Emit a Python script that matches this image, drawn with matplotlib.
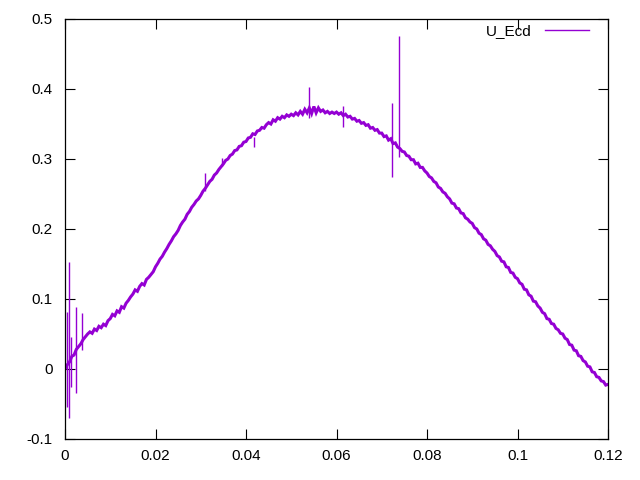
import numpy as np
import matplotlib
matplotlib.use("Agg")
import matplotlib.pyplot as plt
from matplotlib.lines import Line2D
from matplotlib.ticker import FuncFormatter

LINE_COLOR = "#9400d3"
FONT = "Liberation Sans"

# sampled signal, one value every 0.0005 from 0 to 0.12
x_start = 0.0
x_step = 0.0005
u_ecd = [
    0.000, 0.006, 0.010, 0.018, 0.020, 0.028, 0.032, 0.036, 0.042, 0.046,
    0.050, 0.053, 0.051, 0.057, 0.055, 0.061, 0.059, 0.064, 0.062, 0.069,
    0.072, 0.078, 0.076, 0.083, 0.081, 0.089, 0.087, 0.094, 0.098, 0.103,
    0.107, 0.113, 0.111, 0.118, 0.122, 0.120, 0.128, 0.131, 0.135, 0.139,
    0.146, 0.151, 0.157, 0.161, 0.167, 0.172, 0.178, 0.183, 0.189, 0.193,
    0.198, 0.205, 0.210, 0.214, 0.221, 0.225, 0.231, 0.235, 0.240, 0.243,
    0.248, 0.254, 0.258, 0.263, 0.268, 0.271, 0.277, 0.280, 0.285, 0.289,
    0.293, 0.298, 0.300, 0.305, 0.307, 0.312, 0.313, 0.318, 0.319, 0.324,
    0.325, 0.330, 0.331, 0.336, 0.335, 0.340, 0.341, 0.345, 0.344, 0.349,
    0.352, 0.350, 0.356, 0.354, 0.359, 0.357, 0.361, 0.359, 0.363, 0.361,
    0.364, 0.362, 0.366, 0.363, 0.368, 0.364, 0.371, 0.366, 0.373, 0.365,
    0.375, 0.366, 0.373, 0.368, 0.370, 0.366, 0.368, 0.365, 0.367, 0.365,
    0.367, 0.364, 0.366, 0.362, 0.364, 0.360, 0.361, 0.357, 0.358, 0.354,
    0.355, 0.351, 0.352, 0.348, 0.349, 0.344, 0.345, 0.341, 0.342, 0.337,
    0.337, 0.332, 0.333, 0.327, 0.329, 0.322, 0.323, 0.317, 0.315, 0.311,
    0.310, 0.305, 0.304, 0.299, 0.299, 0.293, 0.294, 0.288, 0.288, 0.283,
    0.280, 0.275, 0.273, 0.268, 0.266, 0.260, 0.258, 0.253, 0.251, 0.246,
    0.243, 0.237, 0.236, 0.230, 0.229, 0.223, 0.222, 0.216, 0.214, 0.210,
    0.208, 0.202, 0.200, 0.194, 0.192, 0.186, 0.184, 0.178, 0.176, 0.171,
    0.168, 0.162, 0.160, 0.154, 0.153, 0.146, 0.145, 0.138, 0.137, 0.131,
    0.129, 0.123, 0.121, 0.114, 0.113, 0.106, 0.104, 0.097, 0.096, 0.090,
    0.087, 0.081, 0.079, 0.072, 0.071, 0.065, 0.064, 0.058, 0.056, 0.051,
    0.050, 0.044, 0.042, 0.035, 0.034, 0.027, 0.026, 0.019, 0.018, 0.012,
    0.010, 0.004, 0.003, -0.004, -0.005, -0.011, -0.012, -0.017, -0.018, -0.023,
    -0.022,
]

# short glitches in the signal
spike_x = [0.0004, 0.00095, 0.0014, 0.0024, 0.0037, 0.031, 0.0347, 0.0418,
           0.0539, 0.0614, 0.0722, 0.0738]
spike_lo = [-0.054, -0.070, -0.025, -0.034, 0.027, 0.255, 0.290, 0.317,
            0.359, 0.346, 0.274, 0.303]
spike_hi = [0.082, 0.153, 0.046, 0.089, 0.080, 0.280, 0.302, 0.332,
            0.403, 0.376, 0.380, 0.476]

x_ticks = [0, 0.02, 0.04, 0.06, 0.08, 0.1, 0.12]
y_ticks = [-0.1, 0, 0.1, 0.2, 0.3, 0.4, 0.5]

x = x_start + x_step * np.arange(len(u_ecd))

fig = plt.figure(figsize=(6.4, 4.8), dpi=100)
ax = fig.add_axes([65 / 640, 41 / 480, 543 / 640, 420 / 480])

# thick line gives the noisy band look of the raw trace
ax.plot(x, u_ecd, color=LINE_COLOR, lw=2.2, solid_joinstyle="miter")
ax.vlines(spike_x, spike_lo, spike_hi, color=LINE_COLOR, lw=1.0)

ax.set_xlim(0, 0.12)
ax.set_ylim(-0.1, 0.5)
ax.set_xticks(x_ticks)
ax.set_yticks(y_ticks)
fmt = FuncFormatter(lambda v, p: "%g" % round(v, 6))
ax.xaxis.set_major_formatter(fmt)
ax.yaxis.set_major_formatter(fmt)
ax.tick_params(direction="in", length=7, width=0.8, top=True, right=True,
               labelsize=11)
ax.tick_params(axis="x", pad=7)
ax.tick_params(axis="y", pad=9)
for lab in ax.get_xticklabels() + ax.get_yticklabels():
    lab.set_fontname(FONT)
for s in ax.spines.values():
    s.set_linewidth(0.9)

handle = Line2D([], [], color=LINE_COLOR, lw=1.0)
ax.legend([handle], ["U_Ecd"], loc="upper right", frameon=False, markerfirst=False,
          handlelength=2.9, handletextpad=0.85, borderpad=0, borderaxespad=0,
          bbox_to_anchor=(589 / 640, 456 / 480), bbox_transform=fig.transFigure,
          prop={"family": FONT, "size": 11})

fig.savefig("out.png", dpi=100)
